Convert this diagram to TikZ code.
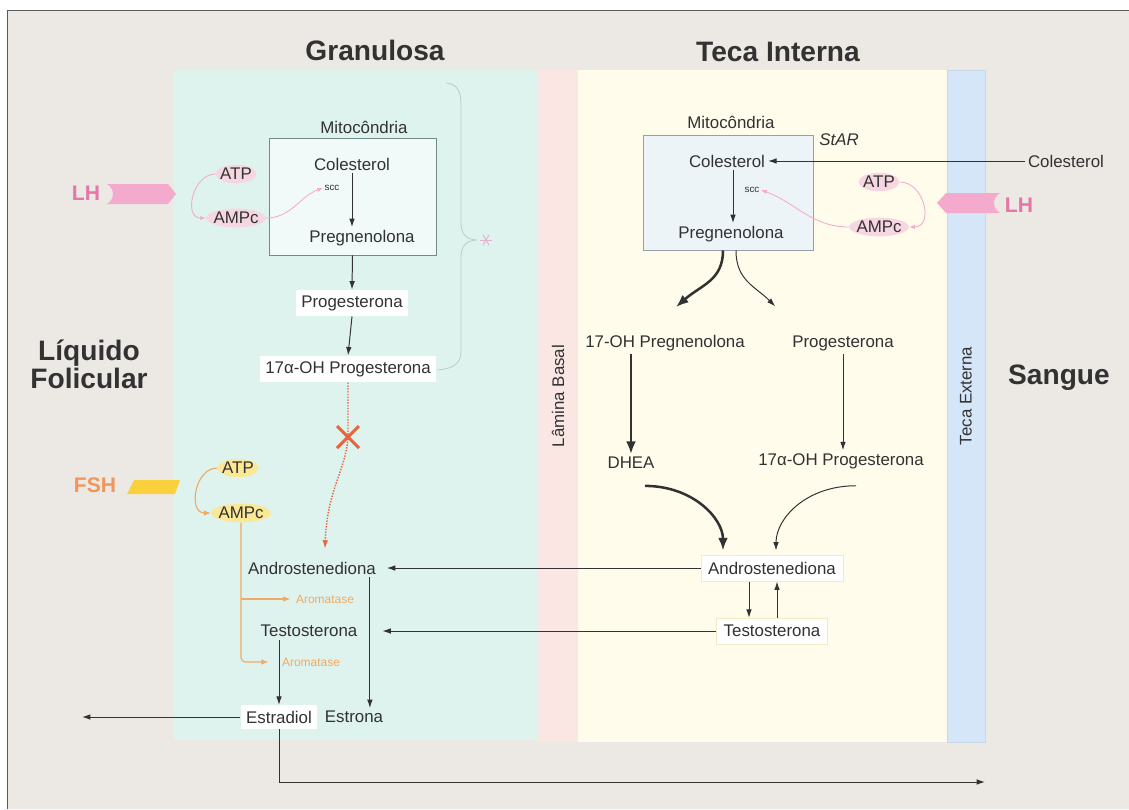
\documentclass[tikz,border=0pt]{standalone}
\usepackage{fontspec}
\setmainfont{Liberation Sans}
\usetikzlibrary{arrows.meta,shapes.geometric,fit,calc}
\definecolor{paper}{RGB}{236,233,229}
\definecolor{granu}{RGB}{222,243,238}
\definecolor{lamina}{RGB}{250,231,228}
\definecolor{tecain}{RGB}{255,252,236}
\definecolor{tecaex}{RGB}{213,230,248}
\definecolor{ink}{RGB}{50,50,50}
\definecolor{lhpink}{RGB}{228,118,168}
\definecolor{lhfill}{RGB}{243,170,205}
\definecolor{lhball}{RGB}{246,214,224}
\definecolor{fshor}{RGB}{240,150,90}
\definecolor{fshyel}{RGB}{250,208,60}
\definecolor{fshball}{RGB}{250,232,150}
\definecolor{aroma}{RGB}{240,170,100}
\definecolor{block}{RGB}{232,100,60}
\definecolor{bracecol}{RGB}{190,204,204}
\definecolor{ylin}{RGB}{242,236,196}
\newcommand{\lbl}{\fontsize{12}{14}\selectfont}
\newcommand{\ttl}{\fontsize{20}{20}\selectfont\bfseries}
\tikzset{
  lab/.style={text=ink,font=\lbl,inner sep=2pt},
  wbox/.style={lab,fill=white,inner sep=4pt},
  ybox/.style={lab,fill=white,draw=ylin,inner sep=5pt},
  ttlnode/.style={text=ink,font=\ttl,align=center},
  ball/.style={ellipse,text=ink,font=\lbl,inner xsep=-1pt,inner ysep=0.5pt},
  scclbl/.style={text=ink,font=\fontsize{7}{8}\selectfont,inner sep=1pt},
  aromlbl/.style={text=aroma,font=\fontsize{8.5}{10}\selectfont,inner sep=1pt},
  hormone/.style={font=\fontsize{15}{17}\selectfont\bfseries,inner sep=1pt},
  mitobox/.style={inner sep=0pt,line width=.7pt},
  stp/.style={draw=ink,line width=.7pt,-{Latex[length=6pt,width=4pt]}},
  thk/.style={draw=ink,line width=1.8pt,-{Latex[length=9pt,width=7pt]}},
  pinkarr/.style={draw=lhfill,line width=.6pt,-{Latex[length=4pt,width=3pt]}},
  oarr/.style={draw=aroma,line width=.8pt,-{Latex[length=5pt,width=4pt]}},
  dotarr/.style={draw=block,line width=1pt,densely dotted,-{Latex[length=6pt,width=4pt]}}
}

\begin{document}
\begin{tikzpicture}[x=0.025cm,y=-0.025cm]
  \useasboundingbox (0,0) rectangle (1129,809);
  % regions
  \fill[white] (0,0) rectangle (1129,809);
  \fill[paper] (7,10) rectangle (1129,809);
  \draw[gray!70!black,line width=.6pt] (7,809) -- (7,10) -- (1129,10);
  \fill[granu] (174,70) rectangle (537,740);
  \fill[lamina] (537,70) rectangle (578,742);
  \fill[tecain] (578,70) rectangle (947,742);
  \fill[tecaex,draw=tecaex!85!gray] (947,70) rectangle (985,742);

  \node[ttlnode] (granulosa) at (375,50) {Granulosa};
  \node[ttlnode] (teca) at (778,52) {Teca Interna};
  \node[ttlnode] (liquido) at (89,364) {Líquido\\Folicular};
  \node[ttlnode] (sangue) at (1059,378) {Sangue};
  \node[lab,rotate=90] (lamlbl) at (558,396) {Lâmina Basal};
  \node[lab,rotate=90] (extlbl) at (966,396) {Teca Externa};

  % granulosa
  \draw[bracecol,line width=.6pt] (446,83) .. controls (458,84) and (461,92) .. (461,105) -- (461,222)
    .. controls (461,234) and (466,239) .. (476,240) .. controls (466,241) and (461,246) .. (461,258)
    -- (461,352) .. controls (461,364) and (452,369) .. (437,370);
  \foreach \a in {0,60,120} \draw[lhfill!70!bracecol,line width=.7pt] (486,240) ++(\a:6) -- ++(\a+180:12);
  \node[mitobox,draw={rgb,255:red,115;green,138;blue,138},fill={rgb,255:red,242;green,250;blue,249},fit={(269,138) (436,255)}] (gmito) {};
  \node[lab] (gmitolbl) at (364,127) {Mitocôndria};
  \node[lab] (gcol) at (352,164) {Colesterol};
  \node[scclbl] (gscc) at (332,188) {scc};
  \node[lab] (gpreg) at (362,238) {Pregnenolona};
  \node[ball,fill=lhball] (gatp) at (236,174) {ATP};
  \node[ball,fill=lhball] (gampc) at (236,218) {AMPc};
  \node[hormone,text=lhpink] (glh) at (86,193) {LH};
  \fill[lhfill] (107,184) -- (168,184) -- (176,194) -- (168,204) -- (107,204) .. controls (115,199) and (115,189) .. cycle;
  \node[wbox] (gprog) at (352,303) {Progesterona};
  \node[wbox] (g17) at (348,369) {17α-OH Progesterona};
  \node[hormone,text=fshor] (fsh) at (95,485) {FSH};
  \fill[fshyel] (134,480) -- (180,480) -- (175,494) -- (127,494) -- cycle;
  \node[ball,fill=fshball] (fatp) at (238,468) {ATP};
  \node[ball,fill=fshball] (fampc) at (241,513) {AMPc};
  \node[lab] (gand) at (312,568) {Androstenediona};
  \node[aromlbl] (arom1) at (325,599) {Aromatase};
  \node[lab] (gtes) at (309,631) {Testosterona};
  \node[aromlbl] (arom2) at (311,662) {Aromatase};
  \node[wbox] (estradiol) at (279,717) {Estradiol};
  \node[lab] (estrona) at (354,717) {Estrona};
  \coordinate (xmark) at (348,437);
  \coordinate (outL) at (82,717);
  \coordinate (outR) at (985,782);

  % teca
  \node[mitobox,draw={rgb,255:red,150;green,160;blue,166},fill={rgb,255:red,236;green,244;blue,248},fit={(643,135) (813,250)}] (tmito) {};
  \node[lab] (tmitolbl) at (731,122) {Mitocôndria};
  \node[lab,font=\lbl\itshape] (star) at (839,140) {StAR};
  \node[lab] (tcol) at (727,161) {Colesterol};
  \node[lab] (bcol) at (1066,161) {Colesterol};
  \node[scclbl] (tscc) at (752,190) {scc};
  \node[lab] (tpreg) at (731,234) {Pregnenolona};
  \node[ball,fill=lhball] (tatp) at (879,182) {ATP};
  \node[ball,fill=lhball] (tampc) at (879,227) {AMPc};
  \fill[lhfill] (1000,193) -- (946,193) -- (937,203) -- (946,213) -- (1000,213) .. controls (992,208) and (992,198) .. cycle;
  \node[hormone,text=lhpink] (tlh) at (1019,205) {LH};
  \node[lab] (t17preg) at (665,343) {17-OH Pregnenolona};
  \node[lab] (tprog) at (843,343) {Progesterona};
  \node[lab] (dhea) at (631,463) {DHEA};
  \node[lab] (t17prog) at (841,461) {17α-OH  Progesterona};
  \node[ybox] (tand) at (772,568) {Androstenediona};
  \node[ybox] (ttes) at (772,631) {Testosterona};

  % connectors granulosa
  \draw[stp] (gcol.south) -- (gcol.south |- gpreg.north);
  \draw[stp] (gmito.south) -- (gprog.north);
  \draw[stp] (gprog.south) -- (g17.north);
  \draw[pinkarr] (gatp.west) to[out=180,in=180,looseness=1.3] (gampc.west);
  \draw[pinkarr] (gampc.east) to[out=0,in=200] (gscc.west);
  \draw[oarr] (fatp.west) to[out=180,in=180,looseness=1.3] (fampc.west);
  \draw[oarr,rounded corners=3pt] (fampc.south) |- ($(arom2.west)+(-12,0)$);
  \draw[oarr] (fampc.south |- arom1.west) -- ($(arom1.west)+(-4,0)$);
  \draw[dotarr] (g17.south) -- (xmark) .. controls (346,470) and (327,490) .. ($(gand.north)+(13,-10)$);
  \draw[block,line width=2.2pt] ($(xmark)+(-11,-11)$) -- ($(xmark)+(11,11)$)
    ($(xmark)+(-11,11)$) -- ($(xmark)+(11,-11)$);
  \coordinate (g1) at ($(gand.south east)+(-9,0)$);
  \draw[stp] (g1) -- (g1 |- estrona.north);
  \draw[stp] (gtes.south -| estradiol.north) -- (estradiol.north);
  \draw[stp] (estradiol.west) -- (outL);
  \draw[stp] (estradiol.south) |- (outR);

  % connectors teca
  \draw[stp] (bcol.west) -- (tcol.east);
  \coordinate (t1) at ($(tcol.south)+(6,0)$);
  \draw[stp] (t1) -- (t1 |- tpreg.north);
  \draw[pinkarr] (tatp.east) to[out=0,in=0,looseness=1.4] (tampc.east);
  \draw[pinkarr] (tampc.west) to[out=180,in=-20] (tscc.east);
  \draw[thk] ($(tmito.south)+(-5,0)$) .. controls +(0,30) and +(25,-22) .. ($(t17preg.north)+(11,-25)$);
  \draw[stp] ($(tmito.south)+(8,0)$) .. controls +(0,30) and +(-20,-20) .. ($(tprog.north west)+(-14,-26)$);
  \draw[thk] (dhea.north |- t17preg.south) -- (dhea.north);
  \draw[stp] (tprog.south) -- (tprog.south |- t17prog.north);
  \draw[thk] ($(dhea.south)+(14,14)$) .. controls +(48,0) and +(0,-32) .. ($(tand.north)+(-49,-4)$);
  \draw[stp] ($(t17prog.south)+(15,14)$) .. controls +(-50,0) and +(0,-32) .. ($(tand.north)+(4,-4)$);
  \draw[stp] ($(tand.south)+(-23,0)$) -- ($(ttes.north)+(-23,0)$);
  \draw[stp] ($(ttes.north)+(5,0)$) -- ($(tand.south)+(5,0)$);
  \draw[stp] (tand.west) -- ($(gand.east)+(8,0)$);
  \draw[stp] (ttes.west) -- ($(gtes.east)+(22,0)$);
\end{tikzpicture}
\end{document}
